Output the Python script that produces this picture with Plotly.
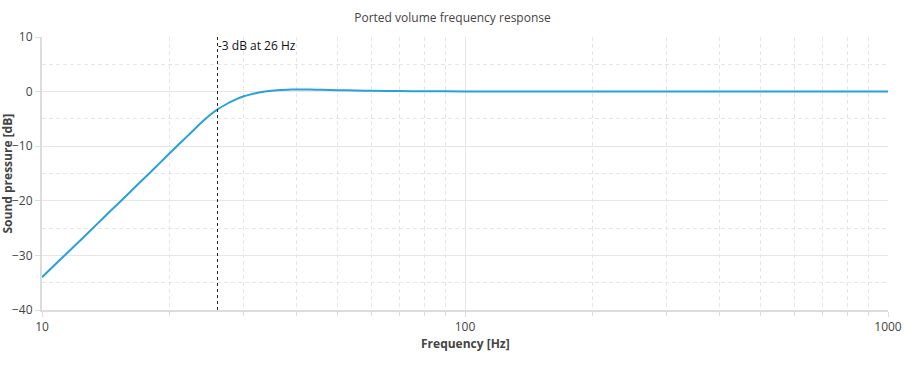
import math
import plotly.graph_objects as go

freq_hz = [10, 11, 12, 13, 14, 15, 16, 17, 18, 19, 20, 21, 22, 23, 24, 25, 26, 27, 28, 29, 30,
           31, 32, 34, 36, 38, 40, 43, 46, 50, 55, 60, 70, 80, 100, 150, 200, 300, 500, 700, 1000]
spl_db = [-34.0, -30.9, -28.1, -25.5, -23.05, -20.8, -18.7, -16.7, -14.85, -13.05, -11.35, -9.75,
          -8.25, -6.8, -5.45, -4.25, -3.25, -2.5, -1.85, -1.3, -0.85,
          -0.55, -0.3, 0.05, 0.25, 0.35, 0.38, 0.37, 0.33, 0.27, 0.2, 0.15, 0.1, 0.07, 0.04, 0.015,
          0.005, 0.0, 0.0, 0.0, 0.0]
cutoff_hz = 26
cutoff_label = "-3 dB at 26 Hz"
x_title = "Frequency [Hz]"
y_title = "Sound pressure [dB]"
chart_title = "Ported volume frequency response"

font = "Open Sans, Noto Sans, sans-serif"
grid = "#e6e6e6"
W, H = 905, 369
L, R, T, B = 42, 17, 37, 59
pw, ph = W - L - R, H - T - B

fig = go.Figure()
fig.add_trace(go.Scatter(x=freq_hz, y=spl_db, mode="lines", line=dict(color="#29a0da", width=2, shape="spline", smoothing=0.4),
                         showlegend=False, hoverinfo="skip"))

fig.add_shape(type="line", x0=cutoff_hz, x1=cutoff_hz, y0=-40, y1=10, xref="x", yref="y",
              line=dict(color="#222", width=1, dash="3px,3px"))
fig.add_annotation(x=math.log10(cutoff_hz), y=10, xref="x", yref="y", text=cutoff_label, showarrow=False,
                   xanchor="left", yanchor="top", xshift=-2, yshift=2,
                   font=dict(size=12, color="#111", family=font))
fig.add_annotation(x=(7 - L) / pw, y=0.5, xref="paper", yref="paper", text="<b>" + y_title + "</b>",
                   textangle=-90, showarrow=False, xanchor="center", yanchor="middle",
                   font=dict(size=12, color="#444", family=font))
fig.add_annotation(x=0.5, y=-(343 - (H - B)) / ph, xref="paper", yref="paper", text="<b>" + x_title + "</b>",
                   showarrow=False, xanchor="center", yanchor="middle",
                   font=dict(size=12, color="#444", family=font))

fig.update_layout(
    width=W, height=H,
    margin=dict(l=L, r=R, t=T, b=B),
    plot_bgcolor="white", paper_bgcolor="white",
    font=dict(family=font, size=12, color="#444"),
    title=dict(text=chart_title, x=0.5, xanchor="center", y=1 - 18 / H, yanchor="middle",
               font=dict(size=12, color="#444", family=font)),
    xaxis=dict(type="log", range=[1, 3], tickvals=[10, 100, 1000], ticktext=["10", "100", "1000"],
               showgrid=True, gridcolor=grid, gridwidth=1, automargin=False,
               showline=True, linecolor="#dcdcdc", linewidth=2, ticks="outside", ticklen=5, tickcolor="#dcdcdc",
               minor=dict(tickvals=[20, 30, 40, 50, 60, 70, 80, 90, 200, 300, 400, 500, 600, 700, 800, 900],
                          showgrid=True, gridcolor=grid, griddash="4px,3px", ticks="outside", ticklen=4, tickcolor="#dcdcdc"),
               zeroline=False),
    yaxis=dict(range=[-40, 10], tickvals=[-40, -30, -20, -10, 0, 10], showgrid=True, gridcolor=grid, automargin=False,
               showline=True, linecolor="#dcdcdc", linewidth=2, ticks="outside", ticklen=5, tickcolor="#dcdcdc",
               minor=dict(tickvals=[-35, -25, -15, -5, 5], showgrid=True, gridcolor=grid, griddash="4px,3px"),
               zeroline=False),
)

fig.write_html("out.html", config={"displayModeBar": False}, post_script="document.body.style.margin='0';")
